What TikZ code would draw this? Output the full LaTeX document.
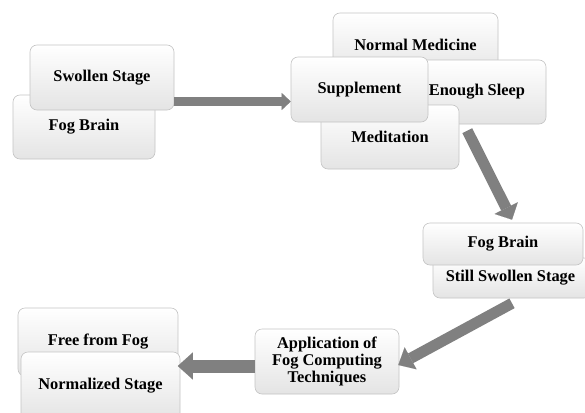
\documentclass[tikz,border=0pt]{standalone}
\usepackage{fontspec}
\setmainfont{Liberation Serif}
\usetikzlibrary{arrows.meta}
\definecolor{arrowgray}{RGB}{128,128,128}
\definecolor{boxline}{RGB}{196,196,196}
\definecolor{boxbottom}{RGB}{228,228,228}
\tikzset{
  stagebox/.style={draw=boxline, line width=0.6pt, rounded corners=7pt,
    top color=white, bottom color=boxbottom, shading angle=0,
    align=center, inner sep=0pt,
    font=\fontsize{16.4}{17}\selectfont\bfseries},
  flow/.style={draw=arrowgray, line cap=butt},
}
\begin{document}
\begin{tikzpicture}[x=1pt, y=-1pt]
\clip (0,0) rectangle (585,412);
\fill[white] (0,0) rectangle (585,412);

% starting stage
\node[stagebox, minimum width=142pt, minimum height=64pt] (fogA) at (84,127) {\raisebox{-2pt}{Fog Brain}};
\node[stagebox, minimum width=144pt, minimum height=65pt] (swollen) at (102,77.5) {\raisebox{-2pt}{Swollen Stage}};

% treatments
\node[stagebox, minimum width=165pt, minimum height=64pt] (medicine) at (415.5,45) {\raisebox{-1pt}{Normal Medicine}};
\node[stagebox, minimum width=138pt, minimum height=64pt] (sleep) at (477,92) {\raisebox{-1pt}{Enough Sleep}};
\node[stagebox, minimum width=138pt, minimum height=64pt] (meditation) at (390,137) {Meditation};
\node[stagebox, minimum width=137pt, minimum height=65pt] (supplement) at (359.5,89.5) {\raisebox{-1pt}{Supplement}};

% intermediate stage
\node[stagebox, minimum width=158pt, minimum height=40pt] (still) at (512,278) {\hspace*{-3pt}Still Swollen Stage};
\node[stagebox, minimum width=160pt, minimum height=42pt] (fogB) at (503,244) {Fog Brain};

% fog computing
\node[stagebox, minimum width=144pt, minimum height=65pt] (fogcomp) at (327,361.5) {Application of\\Fog Computing\\Techniques};

% final stage
\node[stagebox, minimum width=160pt, minimum height=68pt] (free) at (98,342) {Free from Fog};
\node[stagebox, minimum width=159pt, minimum height=68pt] (normal) at (100.5,386) {Normalized Stage};

% block arrows between the stages
\draw[flow, line width=9pt, -{Triangle[width=17pt,length=9pt,line width=0.1pt]}]
  ([yshift=-24pt]swollen.east) -- ([yshift=-12pt]supplement.west);
\draw[flow, line width=11pt, -{Triangle[width=26pt,length=13pt,line width=0.1pt]}]
  ([xshift=8pt,yshift=-26pt]meditation.north east) -- ([xshift=9pt,yshift=3pt]fogB.north);
\draw[flow, line width=11pt, -{Triangle[width=25pt,length=14pt,line width=0.1pt]}]
  ([yshift=-5pt]still.south) -- ([xshift=-1pt,yshift=-3.5pt]fogcomp.east);
\draw[flow, line width=13pt, -{Triangle[width=27pt,length=15pt,line width=0.1pt]}]
  ([yshift=-4.5pt]fogcomp.west) -- ([xshift=-2.5pt,yshift=20pt]normal.east);
\end{tikzpicture}
\end{document}
